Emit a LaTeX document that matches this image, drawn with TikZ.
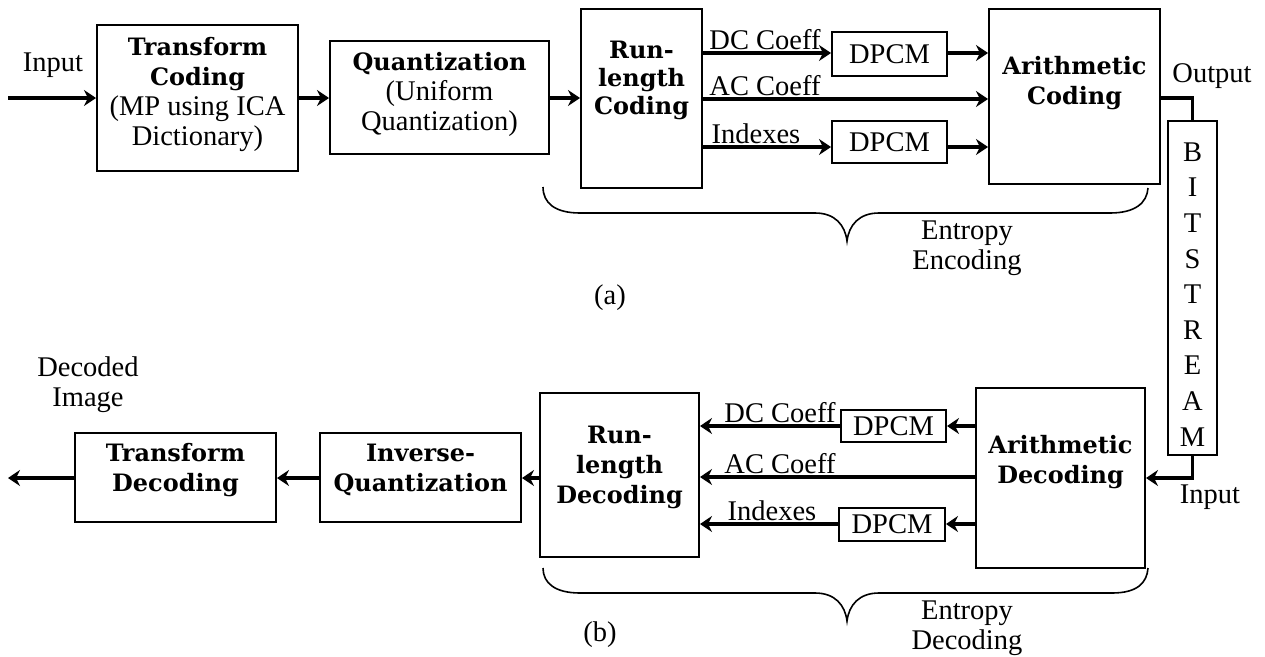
\documentclass[tikz,border=0pt]{standalone}
\usepackage{fontspec}
\setmainfont{Liberation Serif}[BoldFont={DejaVu Serif Bold}, BoldFeatures={Scale=0.84}]
\usetikzlibrary{arrows.meta}
\tikzset{
  box/.style={draw, line width=2pt, rectangle, inner sep=0pt},
  arr/.style={line width=3.2pt, -{Stealth[length=12pt,width=16pt,inset=4pt]}},
  ln/.style={line width=3.2pt},
  lbl/.style={inner sep=1pt, align=center},
  bl/.style={inner sep=1pt, align=center, font=\fontsize{28.5}{30}\selectfont\bfseries},
  brace/.style={line width=1.6pt},
}
\begin{document}
\begin{tikzpicture}[x=1pt,y=-1pt,font=\fontsize{28.5}{30}\selectfont]
\useasboundingbox (0,0) rectangle (1265,656);
% ---------- (a) encoder ----------
\node[box, minimum width=201pt, minimum height=146pt] (tc) at (197.5,98) {};
\node[lbl] at (197.5,94) {\textbf{Transform}\\\textbf{Coding}\\(MP using ICA\\Dictionary)};
\node[box, minimum width=219pt, minimum height=113pt] (q) at (439.5,97.5) {};
\node[lbl] at (439.5,94) {\textbf{Quantization}\\(Uniform\\Quantization)};
\node[box, minimum width=121pt, minimum height=179pt] (rl) at (641.5,98.5) {};
\node[bl, font=\fontsize{28.5}{28}\selectfont\bfseries] at (641.5,80) {Run-\\length\\Coding};
\node[box, minimum width=115pt, minimum height=44pt] (d1) at (889.5,54) {DPCM};
\node[box, minimum width=115pt, minimum height=42pt] (d2) at (889.5,142) {DPCM};
\node[box, minimum width=171pt, minimum height=175pt] (ac) at (1074.5,96.5) {};
\node[bl] at (1074.5,83) {Arithmetic\\Coding};
\node[box, minimum width=49pt, minimum height=334pt] (bs) at (1192.5,288) {};
\foreach \c [count=\i from 0] in {B,I,T,S,T,R,E,A,M}
  \node[lbl] at (1192.5,152+35.6*\i) {\c};

\coordinate (inA) at (8,98);
\draw[arr] (inA) -- (tc.west |- inA);
\node[lbl] (inputA) at (53,65) {Input};
\draw[arr] (tc.east |- 0,98) -- (q.west |- 0,98);
\draw[arr] (q.east |- 0,98) -- (rl.west |- 0,98);
\draw[arr] (rl.east |- 0,53) -- (d1.west |- 0,53);
\draw[arr] (d1.east |- 0,53) -- (ac.west |- 0,53);
\draw[arr] (rl.east |- 0,99) -- (ac.west |- 0,99);
\draw[arr] (rl.east |- 0,147) -- (d2.west |- 0,147);
\draw[arr] (d2.east |- 0,147) -- (ac.west |- 0,147);
\node[lbl, anchor=south] at (765,51) {DC Coeff};
\node[lbl, anchor=south] at (765,97) {AC Coeff};
\node[lbl, anchor=south] at (756,145) {Indexes};
\draw[ln] (ac.east |- 0,98) -| (bs.north);
\node[lbl] (outA) at (1212,76) {Output};

\draw[brace] (543,187) .. controls (543,203) and (555,213) .. (580,213) -- (815,213)
  .. controls (835,213) and (845,225) .. (847,241)
  .. controls (849,225) and (859,213) .. (879,213) -- (1110,213)
  .. controls (1135,213) and (1147,203) .. (1148,188);
\node[lbl] at (967,248) {Entropy\\Encoding};
\node[lbl] at (610,298) {(a)};

% ---------- (b) decoder ----------
\node[box, minimum width=169pt, minimum height=180pt] (ad) at (1060.5,478) {};
\node[bl] at (1060.5,462) {Arithmetic\\Decoding};
\node[box, minimum width=105pt, minimum height=32pt] (d3) at (893.5,426) {DPCM};
\node[box, minimum width=106pt, minimum height=33pt] (d4) at (892,524.5) {DPCM};
\node[box, minimum width=159pt, minimum height=164pt] (rld) at (619.5,475) {};
\node[bl] at (619.5,467) {Run-\\length\\Decoding};
\node[box, minimum width=201pt, minimum height=89pt] (iq) at (420.5,477.5) {};
\node[bl] at (420.5,470) {Inverse-\\Quantization};
\node[box, minimum width=201pt, minimum height=89pt] (td) at (175.5,477.5) {};
\node[bl] at (175.5,470) {Transform\\Decoding};

\draw[arr] (bs.south) |- (ad.east);
\node[lbl] (inB) at (1210,497) {Input};
\draw[arr] (ad.west |- 0,426) -- (d3.east |- 0,426);
\draw[arr] (d3.west |- 0,426) -- (rld.east |- 0,426);
\draw[arr] (ad.west |- 0,477) -- (rld.east |- 0,477);
\draw[arr] (ad.west |- 0,524) -- (d4.east |- 0,524);
\draw[arr] (d4.west |- 0,524) -- (rld.east |- 0,524);
\node[lbl, anchor=south] at (780,424) {DC Coeff};
\node[lbl, anchor=south] at (780,475) {AC Coeff};
\node[lbl, anchor=south] at (772,522) {Indexes};
\draw[arr] (rld.west |- 0,478) -- (iq.east |- 0,478);
\draw[arr] (iq.west |- 0,478) -- (td.east |- 0,478);
\coordinate (outB) at (8,478);
\draw[arr] (td.west |- 0,478) -- (outB);
\node[lbl] at (88,385) {Decoded\\Image};

\draw[brace] (543,568) .. controls (543,583) and (555,593) .. (580,593) -- (815,593)
  .. controls (835,593) and (845,605) .. (847,621)
  .. controls (849,605) and (859,593) .. (879,593) -- (1112,593)
  .. controls (1137,593) and (1147,583) .. (1148,568);
\node[lbl] at (967,628) {Entropy\\Decoding};
\node[lbl] at (600,635) {(b)};
\end{tikzpicture}
\end{document}
